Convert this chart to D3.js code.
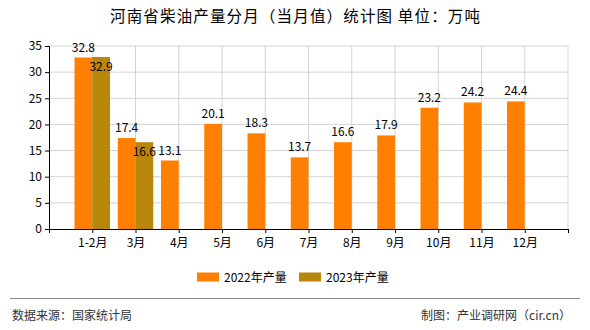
<!DOCTYPE html>
<html><head><meta charset="utf-8">
<script src="https://cdn.jsdelivr.net/npm/d3@7/dist/d3.min.js"></script>
<style>
body{margin:0;background:#fff;}
svg{display:block;font-family:"SimSun","Noto Sans CJK SC",sans-serif;}
</style></head>
<body>
<svg id="c" width="590" height="330"></svg>
<script>
const categories = ["1-2月","3月","4月","5月","6月","7月","8月","9月","10月","11月","12月"];
const series2022 = [32.8,17.4,13.1,20.1,18.3,13.7,16.6,17.9,23.2,24.2,24.4];
const series2023 = [32.9,16.6,null,null,null,null,null,null,null,null,null];
const seriesNames = ["2022年产量","2023年产量"];
const colors = ["#FF8000","#B8860B"];
const yTicks = [0,5,10,15,20,25,30,35];

(function(){
const svg = d3.select("#c");
const pLeft=49, pRight=568, pTop=46, pBottom=229;
const x = d3.scaleLinear().domain([0,12]).range([pLeft,pRight]);
const y = d3.scaleLinear().domain([0,35]).range([pBottom,pTop]);
const bw = (x(1)-x(0))*0.41;

// title
svg.append("text").attr("x",295).attr("y",22).attr("text-anchor","middle")
  .attr("font-size",15.5).attr("textLength",370).attr("lengthAdjust","spacing")
  .attr("fill","#000").text("河南省柴油产量分月（当月值）统计图 单位：万吨");

// grid
const g = svg.append("g");
yTicks.forEach(t=>{
  if(t===0) return;
  g.append("line").attr("x1",pLeft).attr("x2",pRight).attr("y1",y(t)).attr("y2",y(t))
   .attr("stroke","#d3d3d3").attr("stroke-width",1);
});
d3.range(1,13).forEach(i=>{
  g.append("line").attr("x1",x(i)).attr("x2",x(i)).attr("y1",pTop).attr("y2",pBottom)
   .attr("stroke","#d3d3d3").attr("stroke-width",1);
});

// bars
categories.forEach((c,i)=>{
  const cx = x(i+1);
  const v1 = series2022[i];
  if(v1!=null){
    svg.append("rect").attr("x",cx-bw).attr("y",y(v1)).attr("width",bw).attr("height",y(0)-y(v1)).attr("fill",colors[0]);
  }
  const v2 = series2023[i];
  if(v2!=null){
    svg.append("rect").attr("x",cx).attr("y",y(v2)).attr("width",bw).attr("height",y(0)-y(v2)).attr("fill",colors[1]);
  }
});
// labels
categories.forEach((c,i)=>{
  const cx = x(i+1);
  const v1 = series2022[i];
  if(v1!=null){
    svg.append("text").attr("x",cx-bw/2).attr("y",y(v1)-6).attr("text-anchor","middle")
     .attr("font-size",12).attr("fill","#000").text(v1.toFixed(1));
  }
  const v2 = series2023[i];
  if(v2!=null){
    svg.append("text").attr("x",cx+bw/2).attr("y",y(v2)+14).attr("text-anchor","middle")
     .attr("font-size",12).attr("fill","#000").text(v2.toFixed(1));
  }
});

// y axis
const ya = svg.append("g").attr("transform",`translate(${pLeft},0)`)
  .call(d3.axisLeft(y).tickValues(yTicks).tickSize(4).tickPadding(3));
ya.select(".domain").attr("stroke","#000");
ya.selectAll("text").attr("font-size",12).attr("fill","#000").attr("font-family","'SimSun','Noto Sans CJK SC',sans-serif");
ya.selectAll(".tick line").attr("stroke","#000");

// x axis
const xa = svg.append("g").attr("transform",`translate(0,${pBottom})`)
  .call(d3.axisBottom(x).tickValues(d3.range(0,13)).tickSize(4).tickSizeOuter(0)
    .tickFormat(d=> (d>=1 && d<=11) ? categories[d-1] : ""));
xa.select(".domain").attr("stroke","#000");
xa.selectAll(".tick line").attr("stroke","#000");
xa.selectAll("text").attr("font-size",12).attr("fill","#000").attr("dy","0.95em").attr("font-family","'SimSun','Noto Sans CJK SC',sans-serif");

// legend
const leg = svg.append("g");
[[197,224],[299,326]].forEach((p,i)=>{
  leg.append("rect").attr("x",p[0]).attr("y",272.5).attr("width",22).attr("height",9).attr("fill",colors[i]);
  leg.append("text").attr("x",p[1]).attr("y",281.5).attr("font-size",12).attr("fill","#000").text(seriesNames[i]);
});

// footer
svg.append("line").attr("x1",10).attr("x2",580).attr("y1",298.5).attr("y2",298.5).attr("stroke","#888").attr("stroke-width",1);
svg.append("text").attr("x",12).attr("y",320).attr("font-size",12).attr("fill","#333").text("数据来源：国家统计局");
svg.append("text").attr("x",571).attr("y",320).attr("text-anchor","end").attr("font-size",12).attr("fill","#333").text("制图：产业调研网（cir.cn）");
})();
</script>
</body></html>
